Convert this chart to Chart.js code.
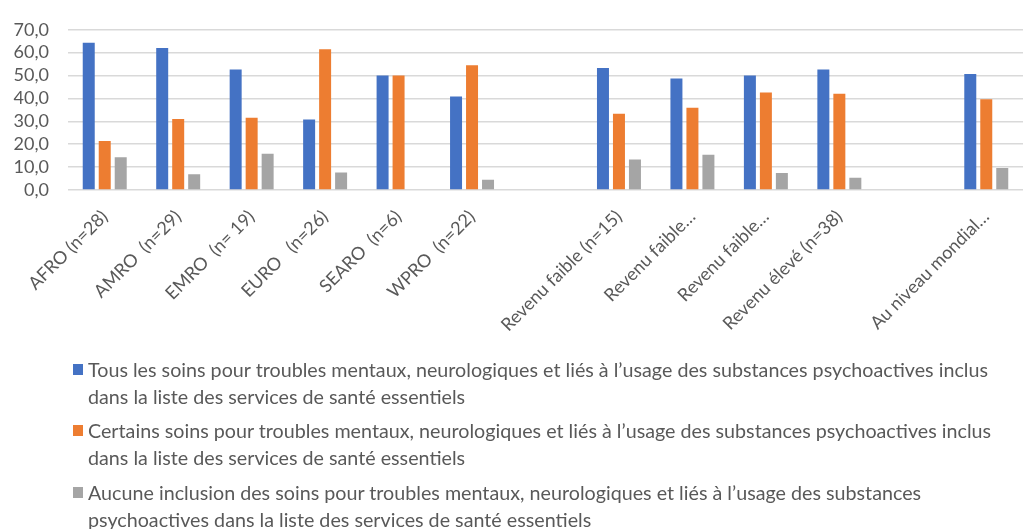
<!DOCTYPE html>
<html><head><meta charset="utf-8">
<script src="https://cdn.jsdelivr.net/npm/chart.js@4.4.1/dist/chart.umd.min.js"></script>
<style>
html,body{margin:0;padding:0;background:#fff;}
#wrap{position:relative;width:1025px;height:529px;overflow:hidden;background:#fff;}
#c{position:absolute;left:0;top:0;}
#legend{position:absolute;left:0;top:0;width:1025px;height:529px;font-family:Lato, "Liberation Sans", sans-serif;color:#595959;}
.item{position:absolute;left:88px;white-space:nowrap;font-size:19px;line-height:27px;transform-origin:0 0;}
.line{display:block;}
.line span{display:inline-block;}
.mark{position:absolute;left:73px;width:10px;height:11px;}
</style></head>
<body><div id="wrap"><canvas id="c" width="1025" height="350" style="width:1025px;height:350px;"></canvas><div id="legend"></div></div>
<script>
const categories = [
  "AFRO (n=28)", "AMRO  (n=29)", "EMRO  (n= 19)", "EURO   (n=26)", "SEARO  (n=6)", "WPRO  (n=22)",
  "", "Revenu faible (n=15)", "Revenu faible…", "Revenu faible…", "Revenu élevé (n=38)", "", "Au niveau mondial…"
];
const tousValues     = [64.3, 62.1, 52.6, 30.8, 50.0, 40.9, null, 53.3, 48.7, 50.0, 52.6, null, 50.7];
const certainsValues = [21.4, 31.0, 31.6, 61.5, 50.0, 54.5, null, 33.3, 35.9, 42.6, 42.1, null, 39.7];
const aucuneValues   = [14.3,  6.9, 15.8,  7.7,  0.0,  4.5, null, 13.3, 15.4,  7.4,  5.3, null,  9.6];
const yTickValues = [0, 10, 20, 30, 40, 50, 60, 70];
const seriesNames = [
  ["Tous les soins pour troubles mentaux, neurologiques et liés à l’usage des substances psychoactives inclus", "dans la liste des services de santé essentiels"],
  ["Certains soins pour troubles mentaux, neurologiques et liés à l’usage des substances psychoactives inclus", "dans la liste des services de santé essentiels"],
  ["Aucune inclusion des soins pour troubles mentaux, neurologiques et liés à l’usage des substances", "psychoactives dans la liste des services de santé essentiels"]
];
const seriesColors = ["#4472C4", "#ED7D31", "#A5A5A5"];
const seriesValues = [tousValues, certainsValues, aucuneValues];

const textColor = "#595959";
const tickFont = {family: "Lato, 'Liberation Sans', sans-serif", size: 18};

const chart = new Chart(document.getElementById("c"), {
  type: "bar",
  data: {
    labels: categories,
    datasets: seriesValues.map((vals, i) => ({
      label: seriesNames[i].join(" "),
      data: vals,
      backgroundColor: seriesColors[i],
      borderWidth: 0,
      categoryPercentage: 0.653,
      barPercentage: 0.75
    }))
  },
  options: {
    responsive: false,
    animation: false,
    layout: {padding: {left: 0, right: 2, top: 27, bottom: 0}},
    plugins: {legend: {display: false}, tooltip: {enabled: false}},
    scales: {
      x: {
        grid: {display: false},
        border: {display: false},
        ticks: {autoSkip: false, maxRotation: 45, minRotation: 45, padding: 8, color: textColor, font: tickFont},
        afterFit(s) { s.height = 160; }
      },
      y: {
        min: 0, max: 70,
        afterBuildTicks(s) { s.ticks = yTickValues.map(v => ({value: v})); },
        ticks: {autoSkip: false, padding: 19, color: textColor, font: tickFont,
          callback: v => Number(v).toFixed(1).replace(".", ",")},
        grid: {color: "#d9d9d9", lineWidth: 1.5, drawTicks: false},
        border: {display: false},
        afterFit(s) { s.width = 68; }
      }
    }
  }
});

// HTML legend
const legend = document.getElementById("legend");
const itemTops = [355.5, 416.5, 479];
const items = [];
chart.data.datasets.forEach((ds, i) => {
  const mark = document.createElement("div");
  mark.className = "mark";
  mark.style.background = ds.backgroundColor;
  mark.style.top = (itemTops[i] + 13.5 - 5.5) + "px";
  legend.appendChild(mark);
  const it = document.createElement("div");
  it.className = "item";
  it.style.top = itemTops[i] + "px";
  seriesNames[i].forEach(t => {
    const l = document.createElement("div");
    l.className = "line";
    const sp = document.createElement("span");
    sp.textContent = t;
    l.appendChild(sp);
    it.appendChild(l);
  });
  legend.appendChild(it);
  items.push(it);
});
const w = items[0].querySelector("span").getBoundingClientRect().width;
const k = 900 / w;
items.forEach(it => { it.style.transform = "scaleX(" + k + ")"; });
</script>
</body></html>
